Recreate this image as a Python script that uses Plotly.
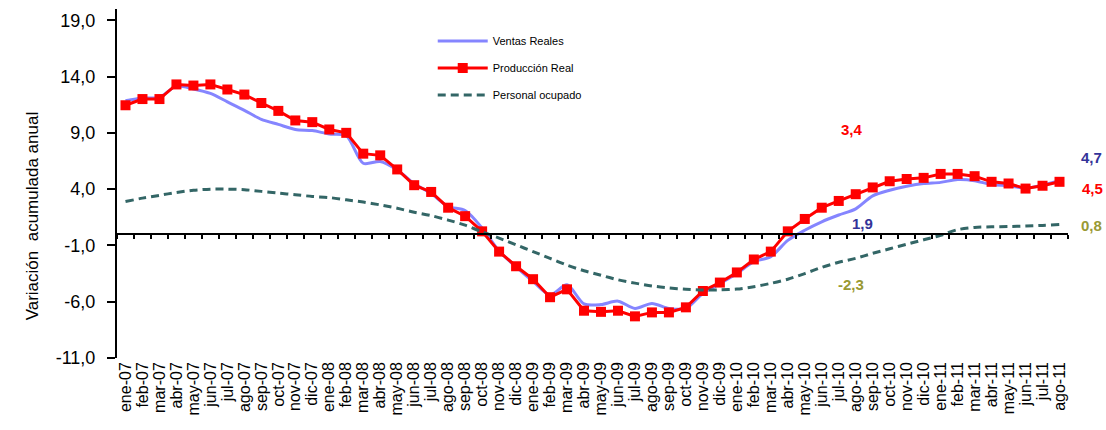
import plotly.graph_objects as go

month_abbr = ['ene', 'feb', 'mar', 'abr', 'may', 'jun', 'jul', 'ago', 'sep', 'oct', 'nov', 'dic']
years = ['07', '08', '09', '10', '11']
n_months = 56
categories = [f"{month_abbr[i % 12]}-{years[i // 12]}" for i in range(n_months)]

ventas_reales = [11.85, 12.1, 12.15, 13.15, 12.9, 12.5, 11.75, 11.0, 10.2, 9.75, 9.3, 9.2, 8.9, 8.75,
                 6.3, 6.45, 5.7, 4.5, 3.6, 2.45, 2.1, 0.55, -1.5, -2.9, -4.2, -5.4, -4.5, -6.2,
                 -6.25, -5.95, -6.6, -6.15, -6.6, -6.6, -5.25, -4.4, -3.5, -2.45, -2.0, -0.55, 0.35, 1.1,
                 1.7, 2.25, 3.4, 3.9, 4.25, 4.5, 4.6, 4.85, 4.75, 4.4, 4.3, 4.1, 4.35, 4.75]

produccion_real = [11.45, 12.0, 12.0, 13.3, 13.2, 13.3, 12.85, 12.4, 11.65, 10.95, 10.1, 9.95, 9.3, 9.0,
                   7.15, 7.0, 5.75, 4.35, 3.75, 2.35, 1.6, 0.25, -1.55, -2.85, -4.0, -5.6, -4.9, -6.8,
                   -6.9, -6.8, -7.3, -6.95, -6.95, -6.5, -5.05, -4.3, -3.4, -2.25, -1.55, 0.25, 1.35, 2.35,
                   2.95, 3.55, 4.15, 4.7, 4.9, 5.0, 5.35, 5.35, 5.15, 4.65, 4.5, 4.05, 4.3, 4.65]

personal_ocupado = [2.9, 3.2, 3.45, 3.7, 3.9, 4.0, 4.0, 3.95, 3.8, 3.65, 3.5, 3.35, 3.25, 3.05,
                    2.85, 2.6, 2.3, 1.95, 1.65, 1.25, 0.8, 0.2, -0.35, -0.95, -1.55, -2.15, -2.75, -3.25,
                    -3.65, -4.05, -4.35, -4.6, -4.78, -4.9, -4.97, -4.95, -4.88, -4.67, -4.37, -4.0, -3.5, -2.95,
                    -2.5, -2.15, -1.7, -1.3, -0.9, -0.5, -0.1, 0.4, 0.6, 0.65, 0.68, 0.72, 0.78, 0.85]

y_tick_vals = [-11, -6, -1, 4, 9, 14, 19]
y_tick_text = ['-11,0', '-6,0', '-1,0', '4,0', '9,0', '14,0', '19,0']
y_min, y_max = -11, 20

# value labels
inner_labels = [('3,4', 42.8, 9.3, '#FF0000'), ('1,9', 43.4, 0.95, '#333399'), ('-2,3', 42.7, -4.45, '#999933')]
end_labels = [('4,7', 1.012, 6.8, '#333399'), ('4,5', 1.013, 4.05, '#FF0000'), ('0,8', 1.012, 0.8, '#999933')]

FONT = 'Liberation Sans, Arial, sans-serif'

fig = go.Figure()
fig.add_trace(go.Scatter(x=categories, y=ventas_reales, name='Ventas Reales', mode='lines',
                         line=dict(color='#8585FF', width=3, shape='spline', smoothing=0.8),
                         legendgroup='a'))
fig.add_trace(go.Scatter(x=categories, y=produccion_real, name='Producción Real', mode='lines+markers',
                         line=dict(color='#FF0000', width=3),
                         marker=dict(symbol='square', size=10, color='#FF0000'),
                         legendgroup='b'))
fig.add_trace(go.Scatter(x=categories, y=personal_ocupado, name='Personal ocupado', mode='lines',
                         line=dict(color='#336666', width=3, dash='8px,5px', shape='spline', smoothing=0.8),
                         legendgroup='c'))

annotations = []
for t, x, y, c in inner_labels:
    annotations.append(dict(text=f'<b>{t}</b>', x=x, y=y, xref='x', yref='y', showarrow=False,
                            font=dict(size=15, color=c, family=FONT)))
for t, x, y, c in end_labels:
    annotations.append(dict(text=f'<b>{t}</b>', x=x, y=y, xref='paper', yref='y', showarrow=False,
                            xanchor='left', font=dict(size=15, color=c, family=FONT)))
annotations.append(dict(text='Variación  acumulada anual', x=-0.1014, y=0.406, xref='paper', yref='paper',
                        showarrow=False, textangle=-90, font=dict(size=17, color='#000000', family=FONT)))

fig.update_layout(
    width=1106, height=430,
    margin=dict(l=116.5, r=37.5, t=9, b=72),
    plot_bgcolor='white', paper_bgcolor='white',
    font=dict(family=FONT, color='#000000'),
    showlegend=True,
    legend=dict(x=0.332, y=0.95, xanchor='left', yanchor='top', bgcolor='rgba(0,0,0,0)',
                font=dict(size=11, family=FONT), tracegroupgap=8, itemwidth=50),
    annotations=annotations,
    xaxis=dict(type='category', categoryorder='array', categoryarray=categories,
               tickmode='array', tickvals=categories, ticktext=categories,
               range=[-0.5, n_months - 0.5], tickangle=-90, showline=False, ticks='',
               showgrid=False, zeroline=False, tickfont=dict(size=16, family=FONT)),
    xaxis2=dict(overlaying='x', anchor='free', position=(0 - y_min) / (y_max - y_min),
                range=[-0.5, n_months - 0.5], tick0=-0.5, dtick=1, ticks='outside', ticklen=4,
                tickcolor='black', tickwidth=1.5, showline=True, linecolor='black', linewidth=2,
                showticklabels=False, showgrid=False, zeroline=False),
    yaxis=dict(range=[y_min, y_max], tickmode='array', tickvals=y_tick_vals, ticktext=y_tick_text,
               showline=True, linecolor='black', linewidth=2, ticks='outside', ticklen=8,
               tickcolor='black', tickwidth=1.5, showgrid=False, zeroline=False,
               tickfont=dict(size=18, family=FONT), ticklabelstandoff=8),
)
# invisible helper trace so the zero-line axis (xaxis2) is drawn
fig.add_trace(go.Scatter(x=[-0.5, n_months - 0.5], y=[0, 0], xaxis='x2', mode='lines',
                         line=dict(width=0), showlegend=False, hoverinfo='skip'))

fig.write_html('out.html', config={'displayModeBar': False},
               post_script="document.body.style.margin='0';document.body.style.overflow='hidden';")
